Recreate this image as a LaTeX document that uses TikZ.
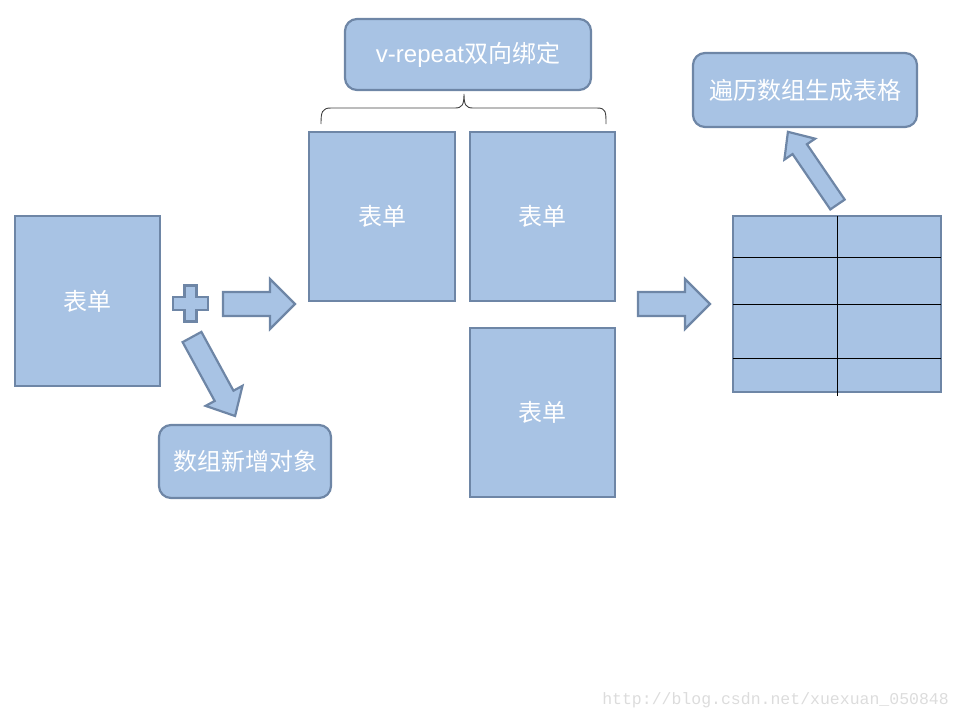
\documentclass[tikz,border=0pt]{standalone}
\usepackage{fontspec}
\setmainfont{Liberation Sans}
\newfontfamily\cjk{Noto Sans CJK SC}
\newfontfamily\wmfont{Liberation Mono}
\definecolor{boxfill}{RGB}{168,195,228}
\definecolor{boxline}{RGB}{110,134,166}
\definecolor{wmgray}{RGB}{220,220,220}
\newcommand\myblockarrow[7]{% x,y,angle,L,headlen,shafthalf,headhalf
  \begin{scope}[shift={(#1,#2)},rotate=#3]
    \draw[shapestyle] (0,-#6) -- ({#4-#5},-#6) -- ({#4-#5},-#7) -- (#4,0)
      -- ({#4-#5},#7) -- ({#4-#5},#6) -- (0,#6) -- cycle;
  \end{scope}}
\tikzset{
  shapestyle/.style={fill=boxfill,draw=boxline,line width=2.2pt,line join=miter},
  formbox/.style={shapestyle,rectangle,inner sep=0pt,text=white,
    font=\cjk\fontsize{24}{28}\selectfont},
  roundbox/.style={formbox,rounded corners=12pt},
  thinline/.style={draw=black,line width=0.9pt},
  bracestyle/.style={draw=black!75,line width=0.9pt}
}
\begin{document}
\begin{tikzpicture}[x=1pt,y=-1pt]
\useasboundingbox (0,0) rectangle (960,720);

% left form
\node[formbox,minimum width=145pt,minimum height=170pt] (f0) at (87.5,301) {表单};

% plus sign
\draw[shapestyle] (184.5,285.5) -- (196.5,285.5) -- (196.5,297) -- (208,297) -- (208,310)
  -- (196.5,310) -- (196.5,321.5) -- (184.5,321.5) -- (184.5,310) -- (173,310)
  -- (173,297) -- (184.5,297) -- cycle;

% block arrows
\myblockarrow{223}{304}{0}{72}{25}{12}{25}
\myblockarrow{192}{337}{-61.4}{90}{23}{10.7}{21}
\myblockarrow{638}{304}{0}{72}{25}{12}{25}
\myblockarrow{837.5}{204.5}{124.3}{88}{21}{8.7}{18.6}

% new object box
\node[roundbox,minimum width=172pt,minimum height=73pt] (add) at (245,461.5) {数组新增对象};

% middle forms
\node[formbox,minimum width=146pt,minimum height=169pt] (f1) at (382,216.5) {表单};
\node[formbox,minimum width=145pt,minimum height=169pt] (f2) at (542.5,216.5) {表单};
\node[formbox,minimum width=145pt,minimum height=169pt] (f3) at (542.5,412.5) {表单};

% top box
\node[roundbox,minimum width=246pt,minimum height=71pt] (vr) at (468,54.5)
  {{\fontsize{24}{28}\selectfont\rmfamily v-repeat}双向绑定};

% brace
\coordinate (bl) at (321,124);
\coordinate (bm) at (464,94);
\coordinate (br) at (606,124);
\draw[bracestyle] (bl) .. controls (321,112) and (322,108) .. (331,108) -- (455,108)
  .. controls (462,108) and (464,105) .. (bm)
  .. controls (464,105) and (466,108) .. (473,108) -- (597,108)
  .. controls (606,108) and (606,112) .. (br);

% table
\node[formbox,minimum width=208pt,minimum height=176pt] (tab) at (837,304) {};
\coordinate (h1l) at (733,257); \coordinate (h1r) at (941,257);
\coordinate (h2l) at (733,304); \coordinate (h2r) at (941,304);
\coordinate (h3l) at (733,358); \coordinate (h3r) at (941,358);
\coordinate (vt) at (837,216); \coordinate (vb) at (837,396);
\draw[thinline] (h1l) -- (h1r);
\draw[thinline] (h2l) -- (h2r);
\draw[thinline] (h3l) -- (h3r);
\draw[thinline] (vt) -- (vb);

% result box
\node[roundbox,minimum width=224pt,minimum height=74pt] (gen) at (805,90) {遍历数组生成表格};

% watermark
\node[text=wmgray,font=\wmfont\fontsize{16.5}{18}\selectfont,anchor=east,inner sep=0pt] (wm) at (949,700) {http://blog.csdn.net/xuexuan\_050848};
\end{tikzpicture}
\end{document}
